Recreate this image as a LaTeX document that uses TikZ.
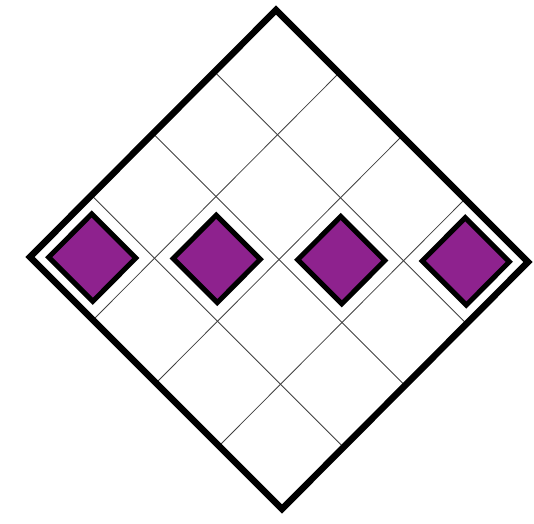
\documentclass[tikz,border=0pt]{standalone}
\definecolor{gemfill}{RGB}{142,34,142}
\begin{document}
\begin{tikzpicture}[
  gridline/.style={line width=0.8pt, draw=black!75},
  frame/.style={line width=6.5pt, draw=black, line join=miter},
  gem/.style={line width=5pt, draw=black, fill=gemfill, line join=miter}
]
\useasboundingbox (0,0) rectangle (534pt,-523pt);
\begin{scope}[shift={(276pt,-10pt)}, x={(63pt,-63pt)}, y={(-61.5pt,-61.75pt)}]
  \foreach \i in {1,2,3} {
    \draw[gridline] (\i,0) -- (\i,4);
    \draw[gridline] (0,\i) -- (4,\i);
  }
  \foreach \k in {0,1,2,3} {
    \draw[gem] ({\k+0.15},{3.15-\k}) -- ({\k+0.85},{3.15-\k}) -- ({\k+0.85},{3.85-\k}) -- ({\k+0.15},{3.85-\k}) -- cycle;
  }
  \draw[frame] (0,0) -- (4,0) -- (4,4) -- (0,4) -- cycle;
\end{scope}
\end{tikzpicture}
\end{document}
